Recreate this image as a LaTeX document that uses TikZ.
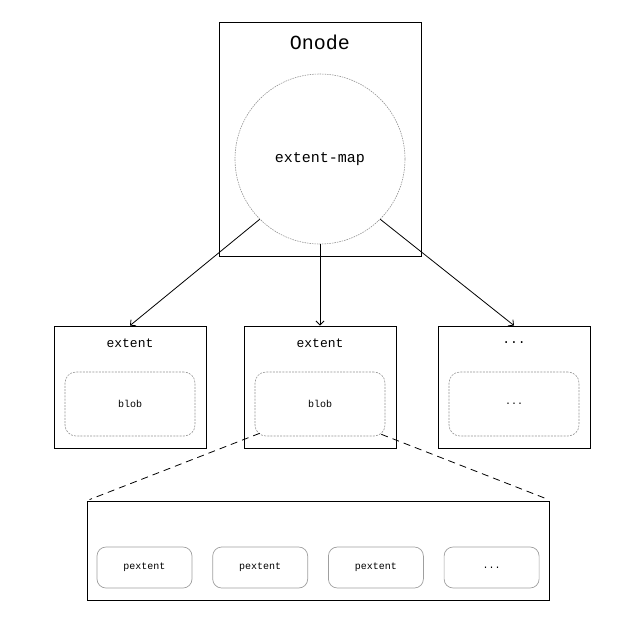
\documentclass[tikz,border=0pt]{standalone}
\usepackage{fontspec}
\setmonofont{Liberation Mono}
\usetikzlibrary{positioning,calc,arrows.meta}

\begin{document}
\begin{tikzpicture}[x=1pt, y=-1pt,
  frame/.style={draw, line width=0.9pt, inner sep=0pt},
  softbox/.style={draw=gray!85, line width=0.6pt, dash pattern=on 2pt off 1.2pt, rounded corners=11pt,
    minimum width=130pt, minimum height=64pt, font=\ttfamily\fontsize{10}{12}\selectfont},
  pbox/.style={draw=gray!75, line width=0.7pt, rounded corners=9pt, minimum width=95pt, minimum height=41pt,
    font=\ttfamily\fontsize{10}{12}\selectfont},
  lbl/.style={font=\ttfamily\fontsize{13}{15}\selectfont},
  >={Straight Barb[length=4pt,width=8pt]}]
\useasboundingbox (0,0) rectangle (639,619);
% inode with its extent map
\node[frame, minimum width=202pt, minimum height=234pt] (onode) at (320,139) {};
\node[font=\ttfamily\fontsize{20}{24}\selectfont] (otitle) at (320,42) {Onode};
\node[draw=gray!85, line width=0.6pt, circle, dash pattern=on 1.5pt off 1pt, minimum size=170pt,
  font=\ttfamily\fontsize{15}{18}\selectfont] (emap) at (320,159) {extent-map};
% extents
\node[frame, minimum width=152pt, minimum height=122pt] (ext1) at (130,387) {};
\node[frame, minimum width=152pt, minimum height=122pt] (ext2) at (320,387) {};
\node[frame, minimum width=152pt, minimum height=122pt] (ext3) at (514,387) {};
\node[lbl] (l1) at (130,343) {extent};
\node[lbl] (l2) at (320,343) {extent};
\node[lbl] (l3) at (514,343) {...};
\node[softbox] (blob1) at (130,404) {blob};
\node[softbox] (blob2) at (320,404) {blob};
\node[softbox] (blob3) at (514,404) {...};
\draw[->, line width=0.8pt] (emap.225) -- (ext1.north);
\draw[->, line width=0.8pt] (emap.270) -- (ext2.north);
\draw[->, line width=0.8pt] (emap.315) -- (ext3.north);
% physical extents of a blob
\node[frame, minimum width=462pt, minimum height=99pt] (pool) at (318,550.5) {};
\node[pbox] (p1) at (144.5,567.5) {pextent};
\node[pbox, right=20pt of p1] (p2) {pextent};
\node[pbox, right=20pt of p2] (p3) {pextent};
\node[pbox, right=20pt of p3] (p4) {...};
\coordinate (bl) at ($(blob2.south west)+(5,-3)$);
\coordinate (br) at ($(blob2.south east)+(-4,-2)$);
\draw[line width=0.8pt, dash pattern=on 7pt off 5pt] (bl) -- ($(pool.north west)+(3,-1)$);
\draw[line width=0.8pt, dash pattern=on 7pt off 5pt] (br) -- ($(pool.north east)+(-1,-1)$);
\end{tikzpicture}
\end{document}
